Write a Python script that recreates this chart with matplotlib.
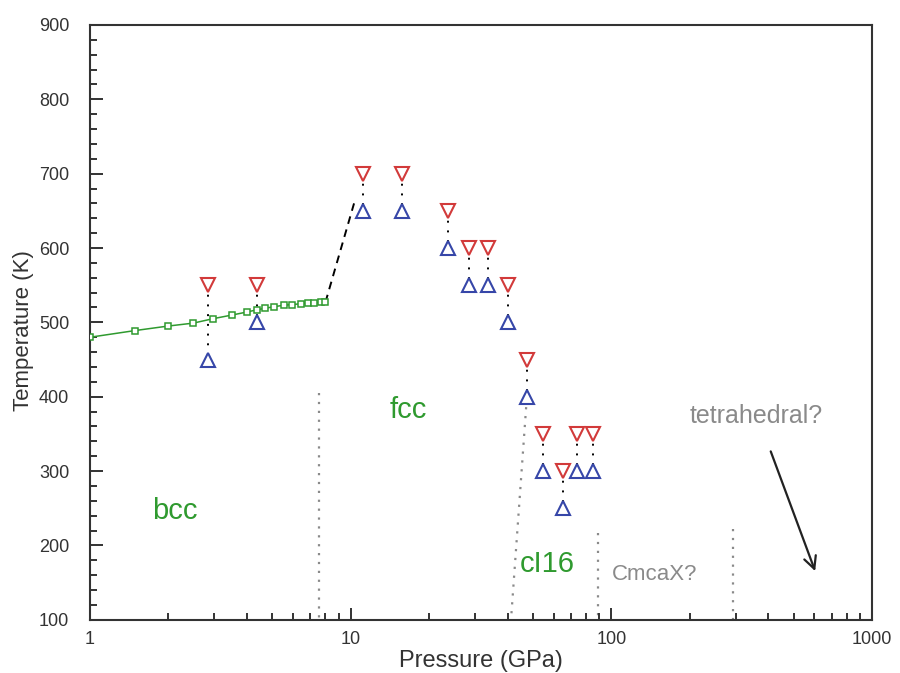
import numpy as np
import matplotlib
matplotlib.use("Agg")
import matplotlib.pyplot as plt
from matplotlib.ticker import FixedLocator, NullFormatter, MultipleLocator

plt.rcParams["font.family"] = ["Liberation Sans", "DejaVu Sans"]

# bcc melting line (GPa, K)
bcc_p = [1.0, 1.49, 1.99, 2.49, 2.97, 3.52, 4.01, 4.38, 4.71, 5.06, 5.53,
         5.98, 6.42, 6.83, 7.2, 7.66, 8.0]
bcc_t = [480, 489, 495, 499, 505, 510, 514, 517, 519, 521, 523,
         524, 525, 526, 526, 527, 527]

# extrapolated fcc melting line
fcc_p = [8.0, 10.3]
fcc_t = [527, 660]

# bracketing runs: melted (upper) and solid (lower)
run_p = [2.84, 4.39, 11.1, 15.8, 23.6, 28.4, 33.6, 40.2, 47.5, 54.8, 65.3, 74.0, 85.3]
melt_t = [550, 550, 700, 700, 650, 600, 600, 550, 450, 350, 300, 350, 350]
solid_t = [450, 500, 650, 650, 600, 550, 550, 500, 400, 300, 250, 300, 300]

# solid-solid phase boundaries
boundaries = [
    ([7.53, 7.53], [405, 100]),
    ([47.1, 41.2], [386, 100]),
    ([89.0, 89.0], [217, 100]),
    ([294.0, 294.0], [222, 100]),
]

GREEN = "#2f9a2f"
GREY = "#8a8a8a"
RED = "#d23a3a"
BLUE = "#3646a8"
DARK = "#333333"

fig = plt.figure(figsize=(9, 6.73), dpi=100)
ax = fig.add_axes([0.1, 0.079, 0.869, 0.884])

for bp, bt in boundaries:
    ax.plot(bp, bt, color=GREY, lw=1.6, ls=(0, (1, 3)), zorder=1)

ax.plot(bcc_p, bcc_t, color=GREEN, lw=1.1, marker="s", ms=5,
        mfc="white", mec=GREEN, mew=1.1, zorder=3)
ax.plot(fcc_p, fcc_t, color="black", lw=1.4, ls=(0, (4, 3)), zorder=2)

for p, tm, ts in zip(run_p, melt_t, solid_t):
    ax.plot([p, p], [tm, ts], color="black", lw=1.4, ls=(0, (1, 4)), zorder=2)
ax.plot(run_p, melt_t, ls="none", marker="v", ms=10, mfc="white",
        mec=RED, mew=1.5, zorder=4)
ax.plot(run_p, solid_t, ls="none", marker="^", ms=10, mfc="white",
        mec=BLUE, mew=1.5, zorder=4)

# phase labels
ax.text(2.12, 246, "bcc", color=GREEN, fontsize=21, ha="center", va="center")
ax.text(16.7, 382, "fcc", color=GREEN, fontsize=21, ha="center", va="center")
ax.text(56.5, 175, "cI16", color=GREEN, fontsize=21, ha="center", va="center")
ax.text(146, 161, "CmcaX?", color=GREY, fontsize=16, ha="center", va="center")
ax.text(360, 374, "tetrahedral?", color=GREY, fontsize=18, ha="center", va="center")
ax.annotate("", xy=(610, 162), xytext=(405, 330),
            arrowprops=dict(arrowstyle="->", color="#222222", lw=1.6,
                            mutation_scale=22))

ax.set_xscale("log")
ax.set_xlim(1, 1000)
ax.set_ylim(100, 900)

ax.xaxis.set_major_locator(FixedLocator([1, 10, 100, 1000]))
ax.set_xticklabels(["1", "10", "100", "1000"])
minor = [m * d for d in (1, 10, 100) for m in range(2, 10)]
ax.xaxis.set_minor_locator(FixedLocator(minor))
ax.xaxis.set_minor_formatter(NullFormatter())
ax.yaxis.set_major_locator(MultipleLocator(100))
ax.yaxis.set_minor_locator(MultipleLocator(20))

ax.tick_params(which="both", direction="in", top=False, right=False,
               colors=DARK, width=1.4, labelsize=13)
ax.tick_params(which="major", length=9)
ax.tick_params(which="minor", length=5)
ax.tick_params(axis="y", pad=15)
ax.tick_params(axis="x", pad=8)

for s in ax.spines.values():
    s.set_color(DARK)
    s.set_linewidth(1.5)

ax.set_xlabel("Pressure (GPa)", fontsize=17, color=DARK)
ax.set_ylabel("Temperature (K)", fontsize=16, color=DARK)
ax.xaxis.set_label_coords(0.5, -0.05)
ax.yaxis.set_label_coords(-0.072, 0.487)

fig.savefig("out.png", dpi=100)
